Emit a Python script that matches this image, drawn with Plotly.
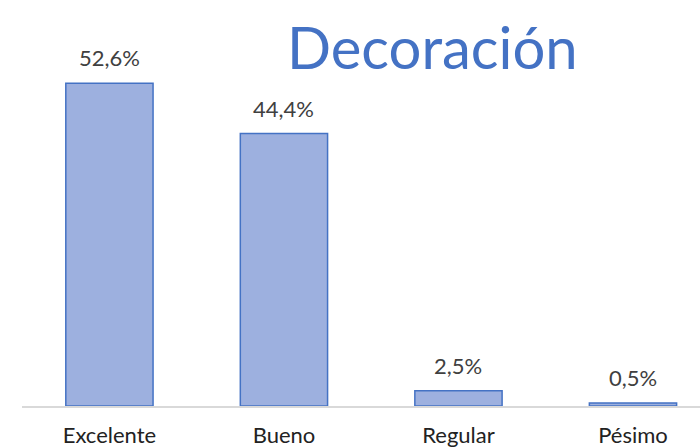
import plotly.graph_objects as go

categorias = ["Excelente", "Bueno", "Regular", "Pésimo"]
porcentajes = [52.6, 44.4, 2.5, 0.5]
etiquetas = ["52,6%", "44,4%", "2,5%", "0,5%"]

fuente = "Lato, 'Noto Sans', sans-serif"
xs = list(range(len(categorias)))

fig = go.Figure(go.Bar(
    x=xs,
    y=porcentajes,
    width=0.5,
    marker=dict(color="#9DB0DF", line=dict(color="#4472C4", width=1.5)),
))

# etiquetas de datos sobre cada barra
for x, y, t in zip(xs, porcentajes, etiquetas):
    fig.add_annotation(
        x=x, y=y, text=t, showarrow=False, yanchor="bottom", yshift=10,
        font=dict(size=22, color="#404040", family=fuente),
    )

# titulo
fig.add_annotation(
    text="Decoración", x=(432 - 22) / 678, y=(406 - 46) / 386,
    xref="paper", yref="paper", yanchor="middle", showarrow=False,
    font=dict(size=58, color="#4472C4", family=fuente),
)

fig.update_layout(
    width=700, height=448,
    margin=dict(l=22, r=0, t=20, b=42, autoexpand=False),
    plot_bgcolor="white", paper_bgcolor="white",
    showlegend=False,
    xaxis=dict(
        range=[-0.501, 3.384],
        tickvals=xs,
        ticktext=categorias,
        tickfont=dict(size=22, color="#222222", family=fuente),
        showline=True, linecolor="#D9D9D9", linewidth=1.5,
        showgrid=False, zeroline=False, ticks="", automargin=False,
        ticklabelstandoff=9,
    ),
    yaxis=dict(range=[0, 62.9], visible=False),
)

# quitar el margen del body para que la figura empiece en (0, 0)
fig.write_html("out.html", config={"displayModeBar": False},
               post_script="document.body.style.margin='0';")
